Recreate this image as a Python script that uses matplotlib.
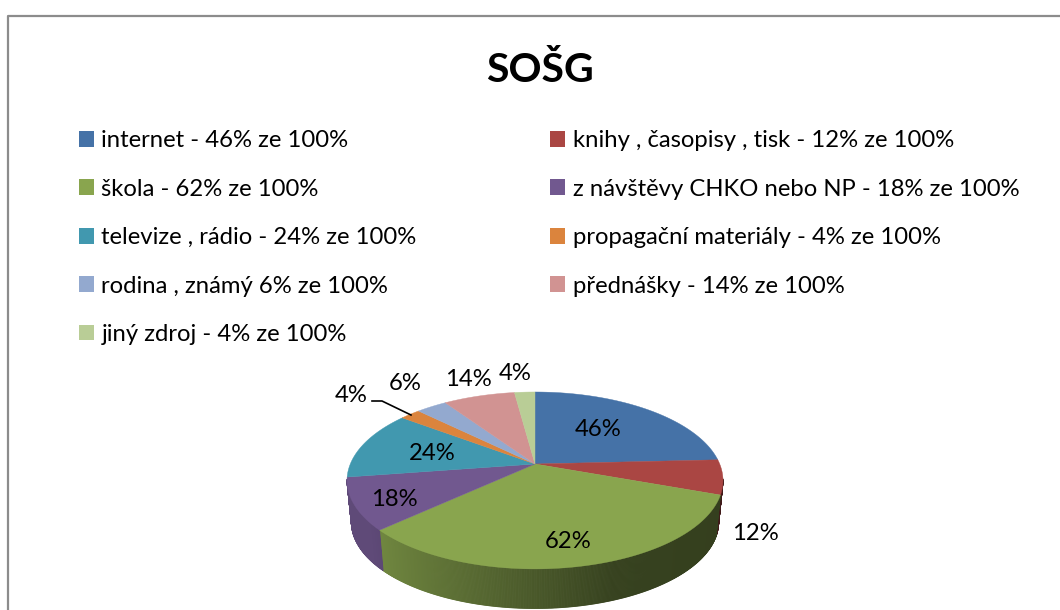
# -*- coding: utf-8 -*-
import numpy as np
import matplotlib
matplotlib.use("Agg")
from matplotlib import pyplot as plt
from matplotlib.patches import Patch
from matplotlib.colors import to_rgb

title = "SOŠG"
names = ["internet - 46% ze 100%", "knihy , časopisy , tisk - 12% ze 100%",
         "škola - 62% ze 100%", "z návštěvy CHKO nebo NP - 18% ze 100%",
         "televize , rádio - 24% ze 100%", "propagační materiály - 4% ze 100%",
         "rodina , známý 6% ze 100%", "přednášky - 14% ze 100%",
         "jiný zdroj - 4% ze 100%"]
values = [46, 12, 62, 18, 24, 4, 6, 14, 4]
colors = ["#4572a7", "#aa4643", "#89a54e", "#71588f", "#4198af",
          "#db843d", "#93a9cf", "#d19392", "#b9cd96"]
# where the data labels sit, in pixels
label_pos = [(598, 430), (755, 534), (568, 542), (394, 499), (432, 453),
             (351, 396), (405, 384), (468, 379), (515, 374)]

plt.rcParams['font.family'] = ['Lato', 'DejaVu Sans']
FONT = 17.2

fig = plt.figure(figsize=(10.6, 6.1), dpi=100)
ax = fig.add_axes([0, 0, 1, 1])
ax.set_xlim(0, 1060)
ax.set_ylim(610, 0)
ax.axis("off")

# chart frame, the right and bottom edges are cut off by the picture
ax.plot([8, 8, 1062], [612, 16, 16], color="#8c8c8c", lw=1.6)

ax.text(540, 70, title, ha="center", va="center", fontsize=29.5, fontweight="bold", color="black")

# pie centre and perspective of the tilted disc
cx, cy = 535, 464
a, b, k = 184.7, 85.4, 0.186
depth, shrink = 42, 0.977


def project(ang, top=True):
    # ang is clockwise from 12 o'clock
    u, v = np.sin(ang), np.cos(ang)
    d = 1 + k * v
    x, y = a * u / d, -b * v / d
    if top:
        return cx + x, cy + y
    return cx + shrink * x, cy + depth + shrink * y


total = sum(values)
edges = np.concatenate([[0], np.cumsum(values)]) / total * 2 * np.pi

# sides first, small strips so the shading can change along the arc
for i in range(len(values)):
    base = np.array(to_rgb(colors[i]))
    steps = np.linspace(edges[i], edges[i + 1], max(3, values[i] * 6))
    for t0, t1 in zip(steps[:-1], steps[1:]):
        mid = (t0 + t1) / 2
        # back of the disc is hidden
        if np.cos(mid) > -0.17:
            continue
        f = np.interp(np.sin(mid), [-0.8, 0.35, 1], [0.84, 0.40, 0.38])
        tt = np.array([t0, t1])
        xt, yt = project(tt)
        xb, yb = project(tt, top=False)
        ax.fill(np.r_[xt, xb[::-1]], np.r_[yt, yb[::-1]], color=base * f, lw=0.6, zorder=2)

# top surface
for i in range(len(values)):
    tt = np.linspace(edges[i], edges[i + 1], 120)
    x, y = project(tt)
    ax.fill(np.r_[cx, x], np.r_[cy, y], color=colors[i], lw=0.3, zorder=3)

# data labels
for v, (lx, ly) in zip(values, label_pos):
    ax.text(lx, ly, "%d%%" % v, ha="center", va="center", fontsize=FONT, color="black", zorder=5)

# leader line for the small orange slice
ax.plot([372, 382, 411], [401, 401, 415], color="black", lw=1.2, zorder=4)

# legend fills by column, so odd entries go first
order = [0, 2, 4, 6, 8, 1, 3, 5, 7]
handles = [Patch(facecolor=colors[i], edgecolor="none", label=names[i]) for i in order]
ax.legend(handles=handles, ncols=2, loc="upper left", bbox_to_anchor=(72 / 1060, 1 - 123 / 610),
          frameon=False, fontsize=FONT, handlelength=0.63, handleheight=0.63,
          handletextpad=0.3, labelspacing=1.15, columnspacing=5.6, borderpad=0.3,
          borderaxespad=0)

fig.savefig("out.png", dpi=100)
